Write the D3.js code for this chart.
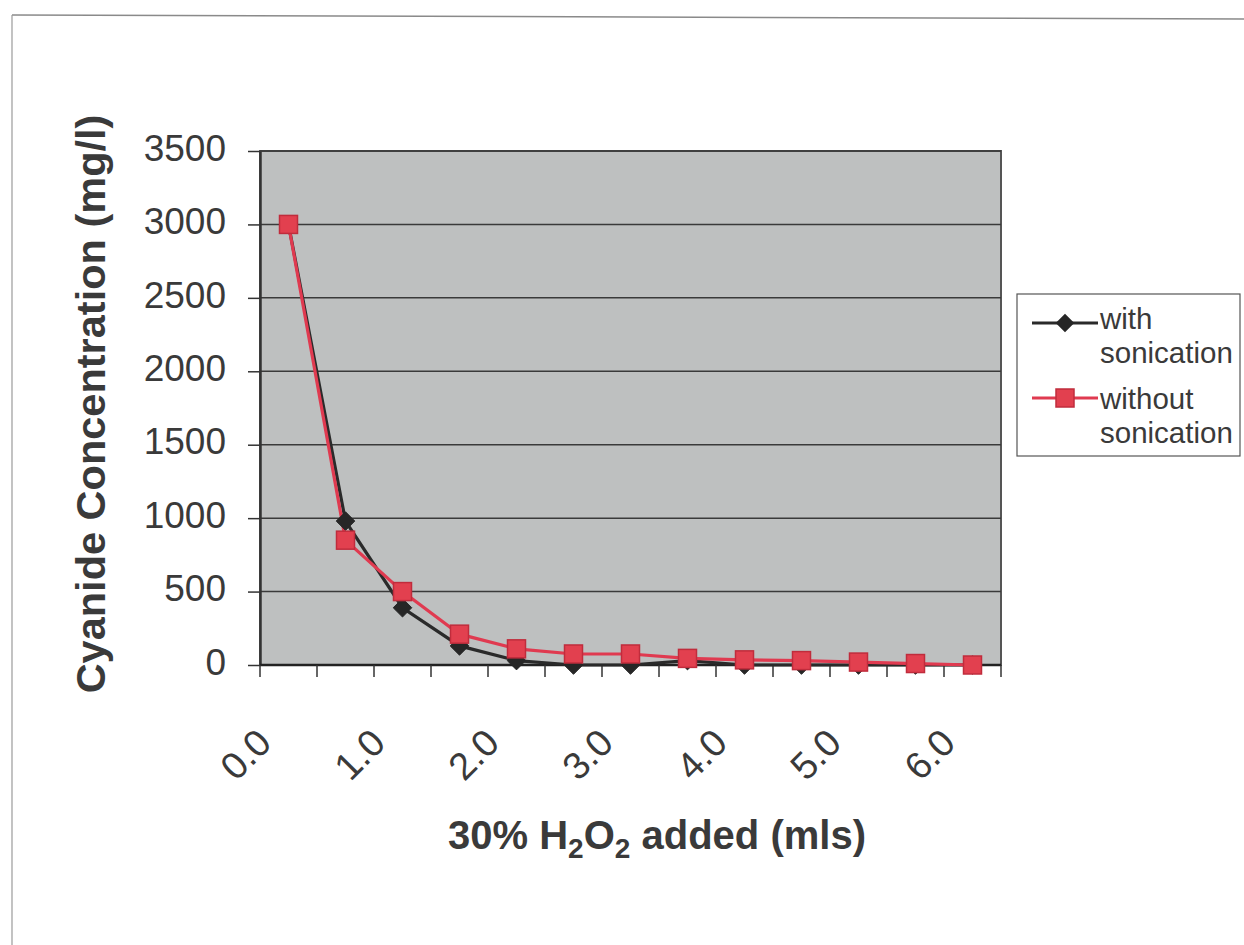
<!DOCTYPE html>
<html>
<head>
<meta charset="utf-8">
<script src="https://cdn.jsdelivr.net/npm/d3@7"></script>
<style>
  html, body { margin: 0; padding: 0; background: #fff; }
  svg { display: block; font-family: "Liberation Sans", Arial, sans-serif; }
</style>
</head>
<body>
<svg id="chart" width="1244" height="945"></svg>
<script>
// ---- data ----
const categories = ["0.0","0.5","1.0","1.5","2.0","2.5","3.0","3.5","4.0","4.5","5.0","5.5","6.0"];
const tickLabels = ["0.0","1.0","2.0","3.0","4.0","5.0","6.0"];
const withSonication    = [3000, 980, 390, 130, 30, 0, 0, 30, 0, 0, 0, 0, 0];
const withoutSonication = [3000, 850, 500, 210, 110, 75, 75, 45, 35, 30, 20, 10, 0];
const yTicks = [0, 500, 1000, 1500, 2000, 2500, 3000, 3500];
const seriesNames = ["with\nsonication", "without\nsonication"];

// ---- layout ----
const svg = d3.select("#chart");
const plot = {left: 260, right: 1001, top: 151, bottom: 665};

// outer chart frame
svg.append("line").attr("x1", 12).attr("y1", 15).attr("x2", 1244).attr("y2", 19)
  .attr("stroke", "#8a8a8a").attr("stroke-width", 1.5);
svg.append("line").attr("x1", 12).attr("y1", 15).attr("x2", 12).attr("y2", 945)
  .attr("stroke", "#9a9a9a").attr("stroke-width", 1.2);

const x = d3.scaleBand().domain(categories).range([plot.left, plot.right]).padding(0);
const y = d3.scaleLinear().domain([0, 3500]).range([plot.bottom, plot.top]);
const cx = c => x(c) + x.bandwidth() / 2;

// plot background
svg.append("rect")
  .attr("x", plot.left).attr("y", plot.top)
  .attr("width", plot.right - plot.left).attr("height", plot.bottom - plot.top)
  .attr("fill", "#bec0c0").attr("stroke", "#555").attr("stroke-width", 2);

// gridlines
svg.append("g").selectAll("line").data(yTicks.filter(t => t > 0)).join("line")
  .attr("x1", plot.left).attr("x2", plot.right)
  .attr("y1", d => y(d)).attr("y2", d => y(d))
  .attr("stroke", "#3a3a3a").attr("stroke-width", 1.5);

// y axis
const yAxis = svg.append("g").attr("transform", `translate(${plot.left},0)`)
  .call(d3.axisLeft(y).tickValues(yTicks).tickFormat(d3.format("d"))
    .tickSize(12).tickPadding(22).tickSizeOuter(0));
yAxis.select(".domain").attr("stroke", "#333").attr("stroke-width", 2.5);
yAxis.selectAll(".tick line").attr("stroke", "#333").attr("stroke-width", 1.5);
yAxis.selectAll(".tick text")
  .attr("font-size", 37).attr("fill", "#3a3a3a")
  .attr("font-family", "'Liberation Sans', Arial, sans-serif")
  .attr("dy", "0.25em");

// x axis line and ticks at category boundaries
const xBoundaries = categories.map(c => x(c)).concat([plot.right]);
svg.append("line").attr("x1", plot.left).attr("x2", plot.right)
  .attr("y1", plot.bottom).attr("y2", plot.bottom)
  .attr("stroke", "#222").attr("stroke-width", 2.5);
svg.append("g").selectAll("line").data(xBoundaries).join("line")
  .attr("x1", d => d).attr("x2", d => d)
  .attr("y1", plot.bottom).attr("y2", plot.bottom + 12)
  .attr("stroke", "#333").attr("stroke-width", 1.5);

// x tick labels (every other category)
svg.append("g").selectAll("text").data(tickLabels).join("text")
  .attr("transform", d => `translate(${cx(d) - 15},${plot.bottom + 80}) rotate(-45)`)
  .attr("text-anchor", "end")
  .attr("font-size", 38).attr("fill", "#3a3a3a")
  .text(d => d);

// series
const line = d3.line().x((d, i) => cx(categories[i])).y(d => y(d));

svg.append("path").datum(withSonication)
  .attr("d", line).attr("fill", "none")
  .attr("stroke", "#2a2a2a").attr("stroke-width", 3.2);
svg.append("path").datum(withoutSonication)
  .attr("d", line).attr("fill", "none")
  .attr("stroke", "#e03a50").attr("stroke-width", 3.2);

const diamond = d3.symbol().type(d3.symbolDiamond2).size(220);
svg.append("g").selectAll("path").data(withSonication).join("path")
  .attr("d", diamond)
  .attr("transform", (d, i) => `translate(${cx(categories[i])},${y(d)})`)
  .attr("fill", "#262626").attr("stroke", "#262626").attr("stroke-width", 1);

svg.append("g").selectAll("rect").data(withoutSonication).join("rect")
  .attr("x", (d, i) => cx(categories[i]) - 9).attr("y", d => y(d) - 9)
  .attr("width", 18).attr("height", 18)
  .attr("fill", "#e2404f").attr("stroke", "#c02c3c").attr("stroke-width", 1.5);

// axis titles
svg.append("text")
  .attr("transform", `translate(105,404) rotate(-90)`)
  .attr("text-anchor", "middle")
  .attr("font-size", 41.5).attr("font-weight", "bold").attr("fill", "#3a3a3a")
  .text("Cyanide Concentration (mg/l)");

const xt = svg.append("text")
  .attr("x", 657).attr("y", 849)
  .attr("text-anchor", "middle")
  .attr("font-size", 40).attr("font-weight", "bold").attr("fill", "#3a3a3a");
xt.append("tspan").text("30% H");
xt.append("tspan").text("2").attr("font-size", 28).attr("dy", 9);
xt.append("tspan").text("O").attr("dy", -9);
xt.append("tspan").text("2").attr("font-size", 28).attr("dy", 9);
xt.append("tspan").text(" added (mls)").attr("dy", -9);

// legend
const lg = svg.append("g");
lg.append("rect").attr("x", 1017).attr("y", 294).attr("width", 223).attr("height", 162)
  .attr("fill", "#fff").attr("stroke", "#555").attr("stroke-width", 1.2);

const legendRows = [
  {name: seriesNames[0], color: "#2a2a2a", marker: "diamond", ly: 323, ty: 329},
  {name: seriesNames[1], color: "#e03a50", marker: "square", ly: 398, ty: 409}
];
legendRows.forEach(r => {
  lg.append("line").attr("x1", 1032).attr("x2", 1098).attr("y1", r.ly).attr("y2", r.ly)
    .attr("stroke", r.color).attr("stroke-width", 3);
  if (r.marker === "diamond") {
    lg.append("path").attr("d", diamond).attr("transform", `translate(1065,${r.ly})`)
      .attr("fill", "#262626");
  } else {
    lg.append("rect").attr("x", 1056).attr("y", r.ly - 9).attr("width", 18).attr("height", 18)
      .attr("fill", "#e2404f").attr("stroke", "#c02c3c").attr("stroke-width", 1.5);
  }
  const t = lg.append("text").attr("x", 1100).attr("y", r.ty)
    .attr("font-size", 29.5).attr("fill", "#3a3a3a");
  r.name.split("\n").forEach((s, i) => {
    t.append("tspan").attr("x", 1100).attr("dy", i === 0 ? 0 : 34).text(s);
  });
});
</script>
</body>
</html>
